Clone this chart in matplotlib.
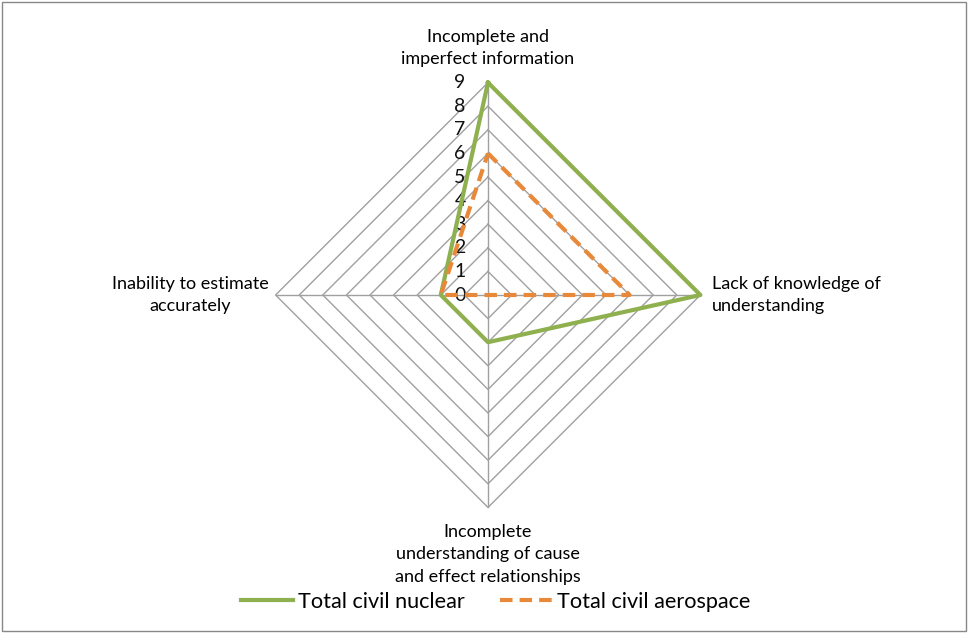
import numpy as np
import matplotlib.pyplot as plt

categories = ["Incomplete and\nimperfect information",
              "Lack of knowledge of\nunderstanding",
              "Incomplete\nunderstanding of cause\nand effect relationships",
              "Inability to estimate\naccurately"]
nuclear = [9, 9, 2, 2]
aerospace = [6, 6, 0, 2]
ticks = list(range(0, 10))

plt.rcParams['font.family'] = ['Lato', 'DejaVu Sans']

fig = plt.figure(figsize=(9.68, 6.33), dpi=100)
ax = fig.add_axes([0, 0, 1, 1])
unit = 23.6
cx, cy = 488, 295
ax.set_xlim(-cx / unit, (968 - cx) / unit)
ax.set_ylim(-(633 - cy) / unit, cy / unit)
ax.set_aspect('equal')
ax.axis('off')

# axes go top, right, bottom, left
ang = np.pi / 2 - np.arange(4) * np.pi / 2
dx, dy = np.cos(ang), np.sin(ang)

def to_xy(vals):
    v = np.array(vals, dtype=float)
    x = np.append(v * dx, v[0] * dx[0])
    y = np.append(v * dy, v[0] * dy[0])
    return x, y

# rings
for r in ticks[1:]:
    x, y = to_xy([r] * 4)
    ax.plot(x, y, color='#a0a0a0', lw=1, zorder=1)
# spokes
rmax = ticks[-1]
for i in range(4):
    ax.plot([0, rmax * dx[i]], [0, rmax * dy[i]], color='#a0a0a0', lw=1, zorder=1)

# tick labels on top spoke
for t in ticks:
    ax.text(-0.95, t, str(t), ha='right', va='center', fontsize=14, color='#111111')

x, y = to_xy(nuclear)
ax.plot(x, y, color='#8fb04e', lw=3, zorder=3, label='Total civil nuclear')
x, y = to_xy(aerospace)
ax.plot(x, y, color='#e8893a', lw=3, ls=(0, (3, 1.7)), zorder=4, label='Total civil aerospace')

# category labels
fs = 13
ax.text(0, rmax + 0.65, categories[0], ha='center', va='bottom', fontsize=fs, linespacing=1.5)
ax.text(rmax + 0.5, 0, categories[1], ha='left', va='center', fontsize=fs, linespacing=1.5)
ax.text(0, -rmax - 0.7, categories[2], ha='center', va='top', fontsize=fs, linespacing=1.5)
ax.text(-rmax - 0.3, 0, categories[3], ha='right', va='center', fontsize=fs,
        linespacing=1.5, multialignment='center')

leg = ax.legend(loc='lower center', bbox_to_anchor=(0.512, 0.02), ncol=2, frameon=False,
                fontsize=15.6, handlelength=2.4, columnspacing=1.6, handletextpad=0.25,
                borderaxespad=0)

fig.patches.append(plt.Rectangle((0.002, 0.003), 0.996, 0.994, transform=fig.transFigure,
                                 fill=False, edgecolor='#888888', lw=1))

fig.savefig('out.png', dpi=100)
